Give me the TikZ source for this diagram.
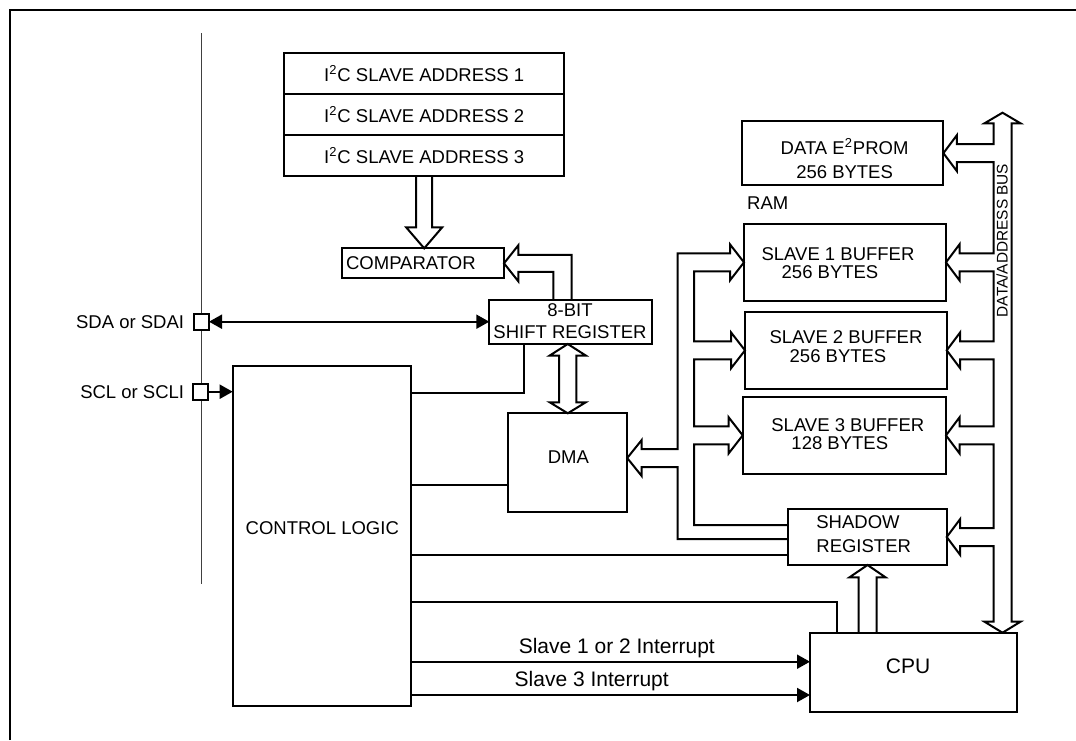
\documentclass[tikz,border=0pt]{standalone}
\usepackage{fontspec}
\setmainfont{Liberation Sans}
\usetikzlibrary{arrows.meta, calc, fit}
\tikzset{
  blk/.style={draw, line width=1pt, inner sep=0pt, outer sep=0pt},
  pinbox/.style={draw, fill=white, line width=1pt, inner sep=0pt, outer sep=0pt, minimum width=7.5pt, minimum height=8pt},
  txt/.style={font=\fontsize{9.25}{11}\selectfont, inner sep=0pt, align=center},
  bigtxt/.style={font=\fontsize{10.5}{12}\selectfont, inner sep=0pt},
  wire/.style={line width=1pt},
  fat/.style={line width=1pt},
  arr/.style={-{Triangle[length=6.5pt, width=7pt]}},
  darr/.style={{Triangle[length=6.5pt, width=7pt]}-{Triangle[length=6.5pt, width=7pt]}},
}
\begin{document}
\begin{tikzpicture}[x=0.5pt, y=-0.5pt]
\useasboundingbox (0,0) rectangle (1076,740);
% ======== frame and pin line ========
\draw[line width=1.35pt] (10,740) -- (10,10) -- (1076,10);
\draw[line width=0.5pt, black!75] (201,33) -- (201,584);
% ======== blocks ========
\foreach \i/\y in {1/53.3, 2/94, 3/135}{
  \node[blk, fit={(284.4,\y) (564,\y+40.8)}] (addr\i) {};
  \node[txt] (addrtxt\i) at (addr\i) {I\textsuperscript{2}C SLAVE ADDRESS \i};
}
\node[blk, fit={(341.7,248.3) (504,278.3)}] (comp) {};
\node[txt, anchor=west] (comptxt) at (345.7,263) {COMPARATOR};
\node[blk, fit={(489.3,300) (652.3,344)}] (shift) {};
\node[txt, font=\fontsize{9.25}{10.8}\selectfont] (shifttxt) at (570,321) {8-BIT\\SHIFT REGISTER};
\node[blk, fit={(508.3,413.3) (627.2,512.2)}] (dma) {};
\node[txt] (dmatxt) at (568.3,456.7) {DMA};
\node[blk, fit={(232.7,366) (411,705.7)}] (ctrl) {};
\node[txt] (ctrltxt) at (322.3,528.3) {CONTROL LOGIC};
% memory side
\node[blk, fit={(741.7,121) (943.4,185.3)}] (eprom) {};
\node[txt, font=\fontsize{9.25}{11.7}\selectfont] (epromtxt) at (844.6,158.3) {DATA E\textsuperscript{2}PROM\\256 BYTES};
\node[txt, anchor=west] (ramtxt) at (746.8,203.3) {RAM};
\node[blk, fit={(744,224) (946,300.7)}] (slave1) {};
\node[blk, fit={(745,311.7) (946.7,389)}] (slave2) {};
\node[blk, fit={(742.7,396.7) (946,474)}] (slave3) {};
\node[txt, font=\fontsize{9.25}{9}\selectfont] (slavetxt1) at (838,262.9) {SLAVE 1 BUFFER\\256 BYTES\hspace*{8pt}};
\node[txt, font=\fontsize{9.25}{9.2}\selectfont] (slavetxt2) at (846,346.7) {SLAVE 2 BUFFER\\256 BYTES\hspace*{8pt}};
\node[txt, font=\fontsize{9.25}{9}\selectfont] (slavetxt3) at (847.8,434.5) {SLAVE 3 BUFFER\\128 BYTES\hspace*{8pt}};
\node[blk, fit={(788.3,509) (946.7,565)}] (shadow) {};
\node[txt, align=left, anchor=west, font=\fontsize{9.25}{11.7}\selectfont] (shadowtxt) at (816,534.3) {SHADOW\\REGISTER};
\node[blk, fit={(810,632.7) (1017.3,711.7)}] (cpu) {};
\node[bigtxt] (cputxt) at (908,666.7) {CPU};
\node[txt, font=\fontsize{7.7}{9}\selectfont, rotate=90] (buslbl) at (1002,240.5) {DATA/ADDRESS BUS};
% ======== pins ========
\node[pinbox] (sda) at (201.5,321.7) {};
\node[pinbox] (scl) at (200.3,391.7) {};
\node[txt, anchor=east] (sdatxt) at (184.5,322) {SDA or SDAI};
\node[txt, anchor=east] (scltxt) at (184.5,392) {SCL or SCLI};
% ======== single wires ========
\draw[wire, darr] (sda.east) -- (shift.west |- sda.east);
\draw[wire, arr] (scl.east) -- (ctrl.west |- scl.east);
\draw[wire] (ctrl.east |- 0,393) -| (shift.south -| 524,0);
\draw[wire] (ctrl.east |- 0,485) -- (dma.west |- 0,485);
\draw[wire] (ctrl.east |- 0,555) -- (shadow.west |- 0,555);
\draw[wire] (ctrl.east |- 0,602.3) -| (cpu.north -| 837.3,0);
\draw[wire, arr] (ctrl.east |- 0,661.7) -- (cpu.west |- 0,661.7);
\draw[wire, arr] (ctrl.east |- 0,695) -- (cpu.west |- 0,695);
\node[bigtxt, anchor=base] (irq12) at (616.8,653.2) {Slave 1 or 2 Interrupt};
\node[bigtxt, anchor=base] (irq3) at (591.7,686.8) {Slave 3 Interrupt};
% ======== hollow bus arrows ========
% address table -> comparator
\draw[fat] ($(addr3.south)+(-8,0)$) -- ++(0,51.6) -- ++(-10,0)
  -- (addr3.south |- comp.north) -- ++(18,-21) -- ++(-10,0) -- ($(addr3.south)+(8,0)$);
% shift register -> comparator
\draw[fat] (shift.north -| 571.7,0) |- ($(comp.east)+(14.3,-8.5)$) -- ++(0,-9.5) -- (comp.east)
  -- ++(14.3,18) -- ++(0,-9.5) -| (shift.north -| 553.3,0);
% shift register <-> DMA
\draw[fat] (dma.north |- shift.south) -- ++(18,11.5) -- ++(-9.3,0) -- ++(0,46.8) -- ++(9.3,0)
  -- (dma.north) -- ++(-18,-11) -- ++(9.3,0) -- ++(0,-46.8) -- ++(-9.3,0) -- cycle;
% CPU -> shadow register
\draw[fat] ($(shadow.south |- cpu.north)+(-9,0)$) -- ++(0,-55.4) -- ++(-9,0) -- (shadow.south)
  -- ++(18,12.3) -- ++(-9,0) -- ($(shadow.south |- cpu.north)+(9,0)$);
% DMA bus to the buffers and shadow register
\coordinate (dmain) at (dma.east |- 0,458);
\draw[fat] (shadow.west |- 0,525) -- (694,525)
  |- ($(slave3.west)+(-14,9)$) -- ++(0,9) -- (slave3.west) -- ++(-14,-18) -- ++(0,9) -- ($(slave3.west -| 694,0)+(0,-9)$)
  |- ($(slave2.west)+(-14,9)$) -- ++(0,9) -- (slave2.west) -- ++(-14,-18) -- ++(0,9) -- ($(slave2.west -| 694,0)+(0,-9)$)
  |- ($(slave1.west)+(-14,9)$) -- ++(0,9) -- (slave1.west) -- ++(-14,-18) -- ++(0,9) -- ($(slave1.west -| 677.5,0)+(0,-9)$)
  |- ($(dmain)+(14.5,-9)$) -- ++(0,-9) -- (dmain) -- ++(14.5,18) -- ++(0,-9) -| (677.5,539) -- (shadow.west |- 0,539);
% data/address bus
\draw[fat] (1002.5,112.7) -- (1020.5,123.3) -- (1011.5,123.3) -- (1011.5,621.7) -- (1020.5,621.7)
  -- (cpu.north -| 1002.5,0) -- (984.5,621.7) -- (993.5,621.7)
  |- ($(shadow.east)+(13.5,9)$) -- ++(0,9) -- (shadow.east) -- ++(13.5,-18) -- ++(0,9) -- ($(shadow.east -| 993.5,0)+(0,-9)$)
  |- ($(slave3.east)+(13.5,9)$) -- ++(0,9) -- (slave3.east) -- ++(13.5,-18) -- ++(0,9) -- ($(slave3.east -| 993.5,0)+(0,-9)$)
  |- ($(slave2.east)+(13.5,9)$) -- ++(0,9) -- (slave2.east) -- ++(13.5,-18) -- ++(0,9) -- ($(slave2.east -| 993.5,0)+(0,-9)$)
  |- ($(slave1.east)+(13.5,9)$) -- ++(0,9) -- (slave1.east) -- ++(13.5,-18) -- ++(0,9) -- ($(slave1.east -| 993.5,0)+(0,-9)$)
  |- ($(eprom.east)+(13.5,9)$) -- ++(0,9) -- (eprom.east) -- ++(13.5,-18) -- ++(0,9) -- ($(eprom.east -| 993.5,0)+(0,-9)$)
  -- (993.5,123.3) -- (984.5,123.3) -- cycle;
\end{tikzpicture}
\end{document}
